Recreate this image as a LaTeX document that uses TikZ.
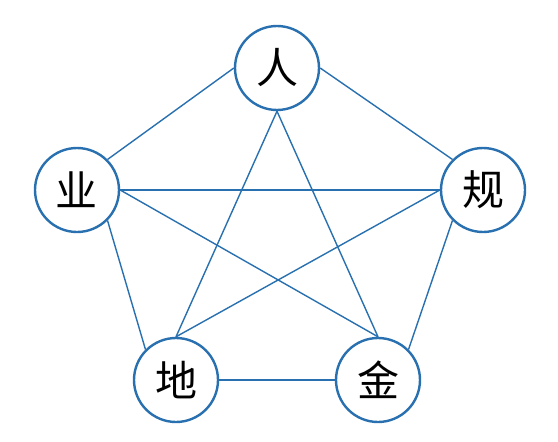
\documentclass[tikz,border=0pt]{standalone}
\usepackage{fontspec}
\newfontfamily\cjk{Noto Sans CJK SC}
\definecolor{lineblue}{RGB}{40,112,175}
\begin{document}
\begin{tikzpicture}[x=1pt,y=-1pt,
  vert/.style={circle,draw=lineblue,line width=2.4pt,minimum size=84pt,inner sep=0pt,fill=white,font=\cjk\fontsize{42}{44}\selectfont},
  edge/.style={draw=lineblue,line width=1.4pt}]
\path[use as bounding box] (0,0) rectangle (558,442);
\node[vert] (ren) at (277,68) {人};
\node[vert] (ye) at (77,190) {业};
\node[vert] (gui) at (483,190) {规};
\node[vert] (di) at (176,380) {地};
\node[vert] (jin) at (378,380) {金};
\path[edge] (ren.west) -- (ye.north east);
\path[edge] (ren.east) -- (gui.north west);
\path[edge] (ye.south east) -- (di.north west);
\path[edge] (gui.south west) -- (jin.north east);
\path[edge] (di.east) -- (jin.west);
\path[edge] (ren.south) -- (di.north);
\path[edge] (ren.south) -- (jin.north);
\path[edge] (ye.east) -- (gui.west);
\path[edge] (ye.east) -- (jin.north);
\path[edge] (gui.west) -- (di.north);
\end{tikzpicture}
\end{document}
